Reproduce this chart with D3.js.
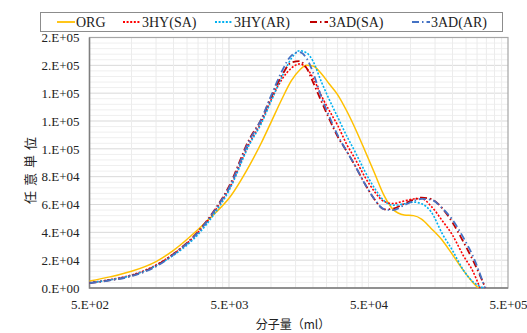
<!DOCTYPE html>
<html>
<head>
<meta charset="utf-8">
<script src="https://cdn.jsdelivr.net/npm/d3@7"></script>
<style>
  body { margin: 0; background: #fff; }
  text { font-family: "Liberation Serif", serif; fill: #222; }
</style>
</head>
<body>
<svg width="527" height="333"></svg>
<script>
// molecular weight grid (x axis, log scale)
var mw = [500, 700, 1000, 1500, 2000, 3000, 4000, 5000, 7000, 8500, 10000, 12000, 14000,
  16000, 18000, 20000, 23000, 26000, 30000, 35000, 40000, 47000, 55000, 65000, 75000,
  90000, 105000, 120000, 140000, 170000, 200000, 240000, 280000];

// series values
var org = [5000, 8000, 12000, 19000, 27000, 42000, 54000, 64500, 88000, 104000, 119000, 136000, 149000,
  156500, 160000, 159500, 154000, 147000, 139000, 127000, 115000, 99000, 83000, 66000, 56500,
  52500, 52000, 49500, 43000, 34000, 24000, 12500, 4000];
var hySA = [3800, 6000, 9300, 16500, 24500, 40000, 56000, 71000, 104000, 119000, 135000, 150000, 158000,
  161000, 158000, 151000, 138000, 128000, 117000, 103000, 93000, 80000, 69500, 62000, 60700,
  62500, 64000, 64300, 59000, 48000, 38000, 23000, 12000];
var hyAR = [3800, 5800, 9000, 16000, 23500, 38500, 54500, 70000, 103000, 118000, 134000, 152000, 165000,
  170500, 169000, 163000, 148000, 136000, 123000, 109000, 98000, 84000, 72000, 62500, 59500,
  60500, 61700, 60500, 55000, 38500, 27000, 12700, 4500];
var adSA = [3500, 5600, 8800, 16000, 24500, 40500, 57000, 73000, 107000, 121000, 137000, 153000, 162000,
  163000, 158000, 148000, 134000, 122000, 109000, 98000, 88000, 75000, 64000, 56500, 57000,
  60500, 63500, 65000, 64000, 57000, 47000, 33000, 20000];
var adAR = [3500, 5500, 8500, 15500, 24000, 40000, 56500, 72000, 106000, 121000, 138000, 156000, 167000,
  169500, 165000, 155000, 137000, 124000, 110000, 98000, 88000, 75000, 64000, 56500, 56000,
  59500, 62500, 64000, 63500, 57000, 49000, 36000, 23000];

// where each curve reaches zero
var endMw = [306000, 315000, 333000, 345000, 342000];

var names = ["ORG", "3HY(SA)", "3HY(AR)", "3AD(SA)", "3AD(AR)"];
var colors = ["#FFC000", "#FF0000", "#00B0F0", "#C00000", "#4472C4"];
var dashes = [null, "2,1.6", "2,1.6", "7,3,1.5,3", "7,3,1.5,3"];
var widths = [1.5, 1.6, 1.6, 1.8, 1.8];

var yTicks = [0, 20000, 40000, 60000, 80000, 100000, 120000, 140000, 160000, 180000];
var yTickLabels = ["0.E+00", "2.E+04", "4.E+04", "6.E+04", "8.E+04", "1.E+05", "1.E+05", "1.E+05", "2.E+05", "2.E+05"];
var xTicks = [500, 5000, 50000, 500000];
var xTickLabels = ["5.E+02", "5.E+03", "5.E+04", "5.E+05"];

var allSeries = [org, hySA, hyAR, adSA, adAR];

var svg = d3.select("svg");
var plotL = 89.5, plotR = 508, plotT = 37.5, plotB = 288;

var x = d3.scaleLog().domain([500, 500000]).range([plotL, plotR]);
var y = d3.scaleLinear().domain([0, 180000]).range([plotB, plotT]);

// grid lines
var grid = svg.append("g");
for (var v = 4000; v < 180000; v += 4000) {
  grid.append("line")
    .attr("x1", plotL).attr("x2", plotR)
    .attr("y1", y(v)).attr("y2", y(v))
    .attr("stroke", v % 20000 === 0 ? "#d9d9d9" : "#efefef")
    .attr("stroke-width", 1);
}
[500, 5000, 50000].forEach(function(base) {
  for (var k = 1; k <= 10; k++) {
    var val = base * k;
    if (val <= 500 || val >= 500000) continue;
    grid.append("line")
      .attr("x1", x(val)).attr("x2", x(val))
      .attr("y1", plotT).attr("y2", plotB)
      .attr("stroke", k === 10 ? "#d9d9d9" : "#ececec")
      .attr("stroke-width", 1);
  }
});

// plot frame
svg.append("rect")
  .attr("x", plotL).attr("y", plotT)
  .attr("width", plotR - plotL).attr("height", plotB - plotT)
  .attr("fill", "none")
  .attr("stroke", "#a6a6a6")
  .attr("stroke-width", 1.2);
svg.append("path")
  .attr("d", "M" + plotL + "," + plotT + "V" + plotB + "H" + plotR)
  .attr("fill", "none")
  .attr("stroke", "#7f7f7f")
  .attr("stroke-width", 1.5);

// y axis
var yAxis = d3.axisLeft(y)
  .tickValues(yTicks)
  .tickSize(0)
  .tickPadding(10)
  .tickFormat(function(d, i) { return yTickLabels[i]; });
var gy = svg.append("g")
  .attr("transform", "translate(" + plotL + ",0)")
  .call(yAxis);
gy.select(".domain").remove();
gy.attr("font-family", null).attr("font-size", null);
gy.selectAll("text")
  .style("font-family", "Liberation Serif")
  .style("font-size", "13px")
  .attr("fill", "#222");

// x axis
var xAxis = d3.axisBottom(x)
  .tickValues(xTicks)
  .tickSize(0)
  .tickPadding(12)
  .tickFormat(function(d, i) { return xTickLabels[i]; });
var gx = svg.append("g")
  .attr("transform", "translate(0," + plotB + ")")
  .call(xAxis);
gx.select(".domain").remove();
gx.attr("font-family", null).attr("font-size", null);
gx.selectAll("text")
  .style("font-family", "Liberation Serif")
  .style("font-size", "13px")
  .attr("fill", "#222");

// axis titles
svg.append("text")
  .attr("x", 293).attr("y", 329)
  .attr("text-anchor", "middle")
  .style("font-family", "Noto Sans CJK JP")
  .style("font-size", "12px")
  .attr("fill", "#444")
  .text("分子量（ml）");

svg.append("text")
  .attr("transform", "translate(35,168) rotate(-90)")
  .attr("text-anchor", "middle")
  .style("font-family", "Noto Sans CJK JP")
  .style("font-size", "13px")
  .style("letter-spacing", "5px")
  .attr("fill", "#444")
  .text("任意単位");

// curves
var line = d3.line()
  .x(function(d) { return x(d[0]); })
  .y(function(d) { return y(d[1]); })
  .curve(d3.curveMonotoneX);

allSeries.forEach(function(vals, i) {
  var pts = mw.map(function(m, j) { return [m, vals[j]]; });
  pts.push([endMw[i], 0]);
  svg.append("path")
    .datum(pts)
    .attr("d", line)
    .attr("fill", "none")
    .attr("stroke", colors[i])
    .attr("stroke-width", widths[i])
    .attr("stroke-dasharray", dashes[i]);
});

// legend
var lg = svg.append("g");
lg.append("rect")
  .attr("x", 40.5).attr("y", 12.5)
  .attr("width", 462).attr("height", 19)
  .attr("fill", "#fff")
  .attr("stroke", "#8c8c8c")
  .attr("stroke-width", 1);
var legX = [57, 123, 215, 310, 412];
names.forEach(function(n, i) {
  lg.append("line")
    .attr("x1", legX[i]).attr("x2", legX[i] + 18)
    .attr("y1", 22).attr("y2", 22)
    .attr("stroke", colors[i])
    .attr("stroke-width", widths[i] + 0.3)
    .attr("stroke-dasharray", dashes[i]);
  lg.append("text")
    .attr("x", legX[i] + 19).attr("y", 27)
    .style("font-size", "14px")
    .text(n);
});
</script>
</body>
</html>
